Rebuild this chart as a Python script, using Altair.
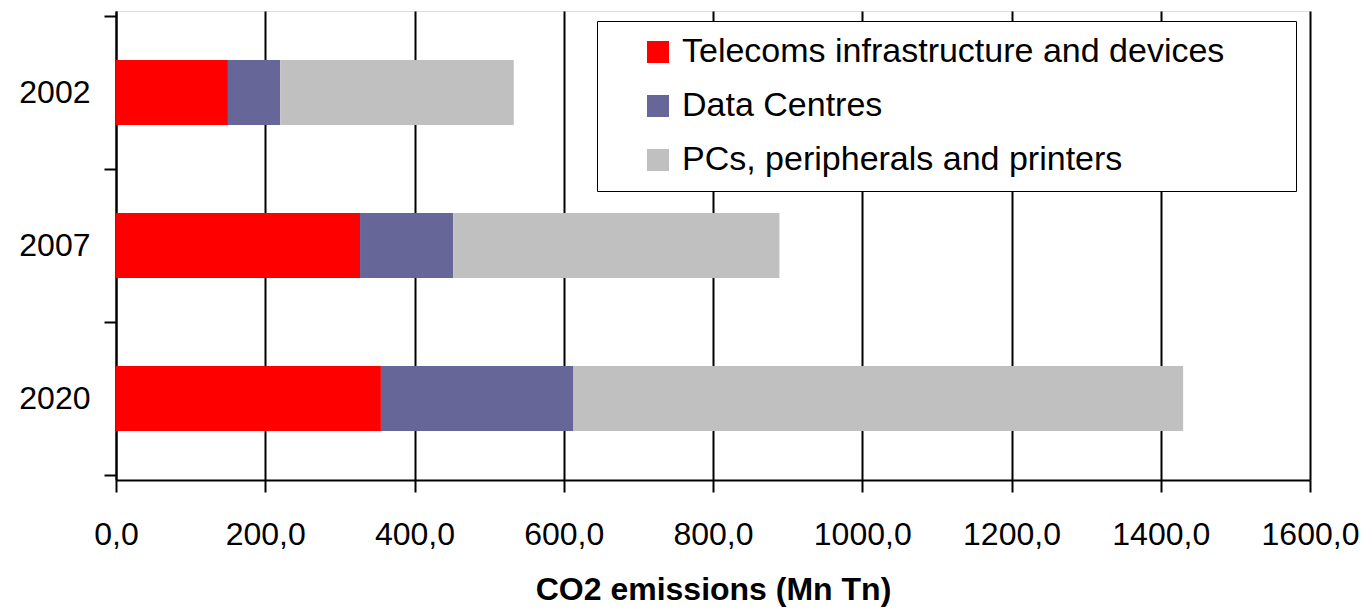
import altair as alt
import pandas as pd

years = ["2002", "2007", "2020"]
series = ["Telecoms infrastructure and devices", "Data Centres", "PCs, peripherals and printers"]
telecoms = [150, 327, 355]
data_centres = [70, 125, 258]
pcs = [313, 437, 817]
colors = ["#FF0000", "#666699", "#C0C0C0"]
x_ticks = [0, 200, 400, 600, 800, 1000, 1200, 1400, 1600]

rows = []
for i, y in enumerate(years):
    for j, (name, vals) in enumerate(zip(series, [telecoms, data_centres, pcs])):
        rows.append({"year": y, "series": name, "value": vals[i], "order": j, "pos": i + 0.5})
df = pd.DataFrame(rows)

y_values = [k / 2 for k in range(2 * len(years) + 1)]
label_list = []
for k in range(2 * len(years) + 1):
    label_list.append(years[k // 2] if k % 2 == 1 else "")
label_expr = "[" + ",".join("'" + s + "'" for s in label_list) + "][round(datum.value*2)]"

FONT = "Liberation Sans"

chart = alt.Chart(df).mark_bar(orient="horizontal", size=65).encode(
    x=alt.X(
        "sum(value):Q",
        stack="zero",
        scale=alt.Scale(domain=[0, 1600], nice=False, zero=True),
        axis=alt.Axis(
            values=x_ticks,
            labelExpr="replace(format(datum.value, '.1f'), '.', ',')",
            labelFlush=False,
            labelOverlap=False,
            title="CO2 emissions (Mn Tn)",
            titleFont=FONT,
            titleFontSize=32,
            titleFontWeight="bold",
            titleColor="black",
            titlePadding=24,
            labelFont=FONT,
            labelFontSize=32,
            labelColor="black",
            labelPadding=27,
            tickSize=12,
            tickColor="black",
            tickWidth=2,
            domainColor="black",
            domainWidth=2,
            grid=True,
            gridColor="black",
            gridWidth=2,
        ),
    ),
    y=alt.Y(
        "pos:Q",
        scale=alt.Scale(domain=[0, len(years)], reverse=True, nice=False, zero=False),
        axis=alt.Axis(
            values=y_values,
            labelExpr=label_expr,
            title=None,
            labelFont=FONT,
            labelFontSize=32,
            labelColor="black",
            labelPadding=14,
            tickSize=12,
            tickColor="black",
            tickWidth=2,
            tickOpacity={"condition": {"test": "datum.value % 1 == 0", "value": 1}, "value": 0},
            domainColor="black",
            domainWidth=2,
            grid=False,
        ),
    ),
    color=alt.Color(
        "series:N",
        scale=alt.Scale(domain=series, range=colors),
        sort=series,
        legend=alt.Legend(
            title=" ",
            titleOrient="right",
            titlePadding=58,
            titleFontSize=10,
            orient="none",
            legendX=481,
            legendY=10,
            fillColor="white",
            strokeColor="black",
            padding=14,
            symbolType="square",
            symbolSize=484,
            symbolOffset=30,
            symbolStrokeWidth=0,
            labelFont=FONT,
            labelFontSize=34,
            labelColor="black",
            labelOffset=7,
            labelLimit=1000,
            rowPadding=20,
        ),
    ),
    order=alt.Order("order:Q", sort="ascending"),
).properties(
    width=1194,
    height=469,
    padding={"left": 108, "top": 3, "right": 49, "bottom": 130},
    autosize=alt.AutoSizeParams(type="none"),
).configure_view(
    stroke="#8c8c8c",
    strokeWidth=2,
).configure(background="white")

chart.save("out.html", embed_options={"renderer": "svg", "actions": False})
